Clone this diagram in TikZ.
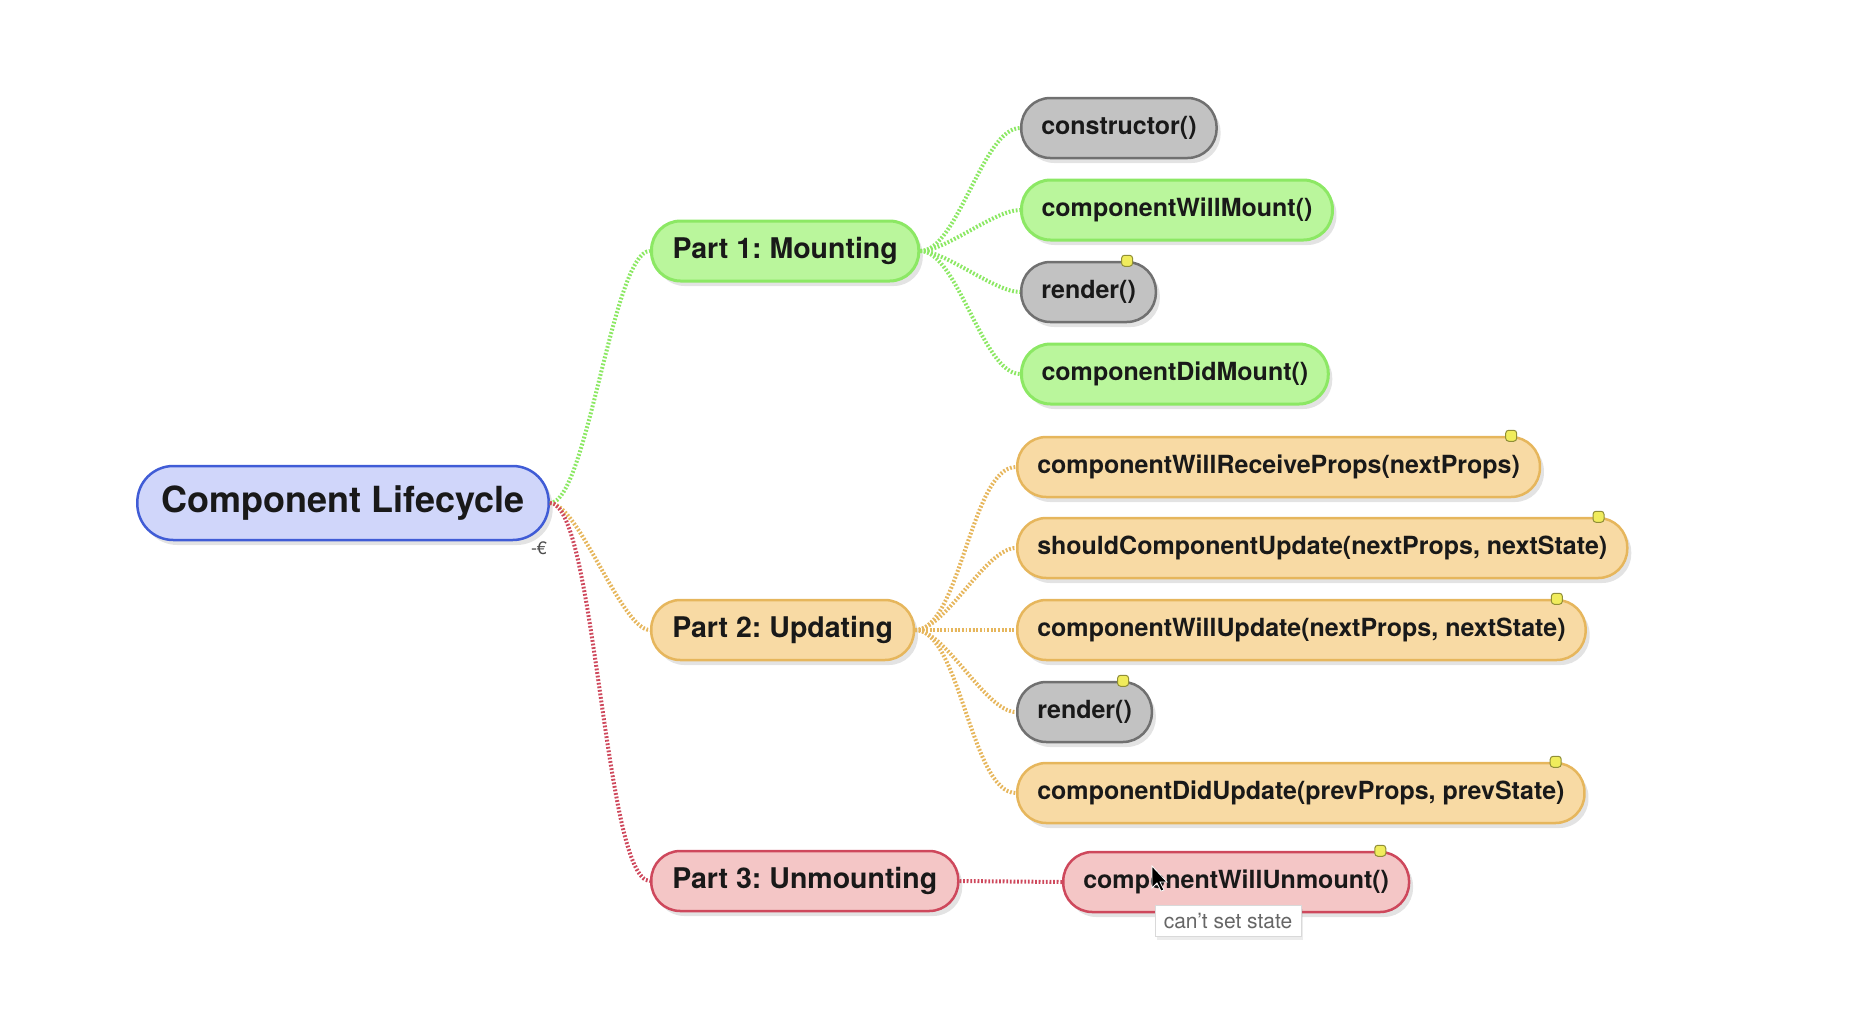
\documentclass[tikz,border=0pt]{standalone}
\usepackage{fontspec}
\setmainfont{TeX Gyre Heros}
\usetikzlibrary{positioning,shadows}
\definecolor{rootblue}{RGB}{64,92,214}
\definecolor{rootfill}{RGB}{208,214,250}
\definecolor{mountgreen}{RGB}{140,232,100}
\definecolor{mountfill}{RGB}{186,246,156}
\definecolor{updorange}{RGB}{230,182,92}
\definecolor{updfill}{RGB}{248,218,164}
\definecolor{unmred}{RGB}{206,72,92}
\definecolor{unmfill}{RGB}{244,198,198}
\definecolor{grayline}{RGB}{112,112,112}
\definecolor{grayfill}{RGB}{194,194,194}
\definecolor{notefill}{RGB}{240,236,92}
\frenchspacing

\begin{document}
\begin{tikzpicture}[x=1pt, y=-1pt,
    pill/.style={rectangle, rounded corners=29pt, minimum height=60pt, inner xsep=20pt, line width=2.5pt, anchor=west, text=black!90, font=\bfseries\fontsize{25}{25}\selectfont, drop shadow={shadow xshift=4pt, shadow yshift=-5pt, opacity=.22}},
    root/.style={pill, anchor=center, draw=rootblue, fill=rootfill, rounded corners=36pt, minimum height=74pt, inner xsep=24pt, font=\bfseries\fontsize{36}{36}\selectfont},
    part/.style={inner xsep=21pt, font=\bfseries\fontsize{28.5}{28.5}\selectfont},
    mount/.style={pill, draw=mountgreen, fill=mountfill, line width=3pt},
    update/.style={pill, draw=updorange, fill=updfill},
    unmount/.style={pill, draw=unmred, fill=unmfill},
    neutral/.style={pill, draw=grayline, fill=grayfill},
    link/.style={draw=#1, line width=4pt, dash pattern=on 1.8pt off 1.8pt},
    notemark/.style={rectangle, rounded corners=3pt, minimum size=11pt, inner sep=0pt, draw=notefill!60!black, fill=notefill, line width=1pt},
    tip/.style={rectangle, draw=black!15, fill=white, minimum height=31pt, inner xsep=9pt, text=black!60, font=\fontsize{21}{21}\selectfont, drop shadow={shadow xshift=2pt, shadow yshift=-3pt, opacity=.15}}
]
    \useasboundingbox (0,0) rectangle (1872,1026);

    % root and the three parts
    \node[root] (lifecycle) at (343,503) {Component Lifecycle};
    \node[mount, part] (mounting) at (650,251) {Part 1: Mounting};
    \node[update, part] (updating) at (650,630) {Part 2: Updating};
    \node[unmount, part] (unmounting) at (650,881) {Part 3: Unmounting};
    \node[text=black!70, font=\fontsize{18}{18}\selectfont] (collapse) at (539,548) {-€};

    % mounting
    \node[neutral] (constructor) at (1020,128) {constructor()};
    \node[mount] (willmount) at (1020,210) {componentWillMount()};
    \node[neutral] (mountrender) at (1020,292) {render()};
    \node[mount] (didmount) at (1020,374) {componentDidMount()};

    % updating
    \node[update] (receiveprops) at (1016,467) {componentWillReceiveProps(nextProps)};
    \node[update] (shouldupdate) at (1016,548) {shouldComponentUpdate(nextProps, nextState)};
    \node[update] (willupdate) at (1016,630) {componentWillUpdate(nextProps, nextState)};
    \node[neutral] (updaterender) at (1016,712) {render()};
    \node[update] (didupdate) at (1016,793) {componentDidUpdate(prevProps, prevState)};

    % unmounting
    \node[unmount] (willunmount) at (1062,882) {componentWillUnmount()};

    % note markers
    \foreach \n in {mountrender,receiveprops,shouldupdate,willupdate,updaterender,didupdate,willunmount}
        \node[notemark] (note-\n) at ([xshift=-30pt]\n.north east) {};

    % links
    \draw[link=mountgreen] (lifecycle.east) to[out=0, in=180, looseness=.35] (mounting.west);
    \draw[link=updorange] (lifecycle.east) to[out=0, in=180, looseness=.45] (updating.west);
    \draw[link=unmred] (lifecycle.east) to[out=0, in=180, looseness=.3] (unmounting.west);
    \foreach \n in {constructor,willmount,mountrender,didmount}
        \draw[link=mountgreen] (mounting.east) to[out=0, in=180, looseness=.6] (\n.west);
    \foreach \n in {receiveprops,shouldupdate,willupdate,updaterender,didupdate}
        \draw[link=updorange] (updating.east) to[out=0, in=180, looseness=.6] (\n.west);
    \draw[link=unmred] (unmounting.east) -- (willunmount.west);

    % tooltip and pointer
    \node[tip] (nostate) at (1228,921) {can't set state};
    \draw[fill=black, draw=white, line width=.8pt, shift={(1152,866)}]
        (0,0) -- (0,22) -- (5,17) -- (9,25) -- (12,24) -- (8,16) -- (15,16) -- cycle;
\end{tikzpicture}
\end{document}
